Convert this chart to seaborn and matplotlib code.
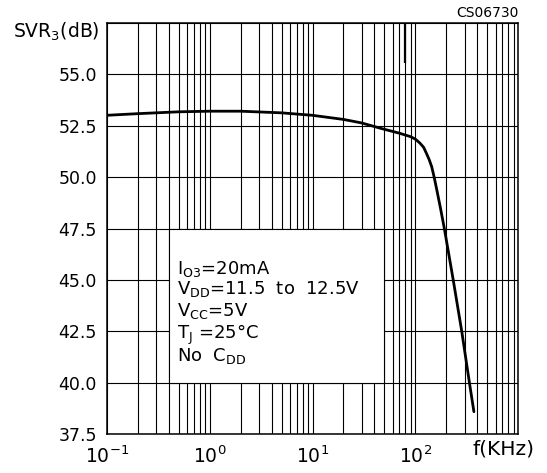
import matplotlib
matplotlib.use('Agg')
import matplotlib.pyplot as plt
import matplotlib.ticker as mticker
from matplotlib.patches import Rectangle
import seaborn as sns
import pandas as pd

sns.set_style('white')
plt.rcParams['font.family'] = ['DejaVu Sans']
plt.rcParams['mathtext.fontset'] = 'dejavusans'
plt.rcParams['text.color'] = 'black'

# curve
freq_khz = [0.1, 0.2, 0.5, 1, 2, 5, 10, 20, 30, 45, 70, 90, 100, 110, 120, 128, 136, 144, 152,
            161, 175, 191, 233, 282, 335, 370]
svr_db = [53.0, 53.08, 53.17, 53.2, 53.2, 53.12, 53.0, 52.8, 52.63, 52.38, 52.13, 51.96, 51.84,
          51.66, 51.45, 51.15, 50.85, 50.5, 50.0, 49.4, 48.5, 47.5, 45.0, 42.5, 40.0, 38.6]
y_ticks = [37.5, 40.0, 42.5, 45.0, 47.5, 50.0, 52.5, 55.0]
x_ticks = [0.1, 1, 10, 100]
x_labels = ['$10^{-1}$', '$10^{0}$', '$10^{1}$', '$10^{2}$']
conditions = [r'I$_{\mathrm{O3}}$=20mA', r'V$_{\mathrm{DD}}$=11.5  to  12.5V', r'V$_{\mathrm{CC}}$=5V',
              r'T$_{\mathrm{J}}$ =25°C', r'No  C$_{\mathrm{DD}}$']
cond_y = [45.27, 44.3, 43.25, 42.12, 41.08]

df = pd.DataFrame({'f': freq_khz, 'svr': svr_db})

fig = plt.figure(figsize=(5.47, 4.73), dpi=100)
ax = fig.add_axes([0.195, 0.0818, 0.9476 - 0.195, 0.952 - 0.0818])

ax.set_xscale('log')
ax.set_xlim(0.1, 1000)
ax.set_ylim(37.5, 57.5)
ax.set_axisbelow(True)
ax.grid(True, which='both', axis='x', color='black', lw=0.8)
ax.grid(True, which='major', axis='y', color='black', lw=0.8)
ax.set_yticks(y_ticks + [57.5])
ax.set_yticklabels([f'{v:.1f}' for v in y_ticks] + [''])
ax.xaxis.set_major_locator(mticker.FixedLocator(x_ticks + [1000]))
ax.xaxis.set_major_formatter(mticker.FixedFormatter(x_labels + ['']))
ax.xaxis.set_minor_locator(mticker.LogLocator(base=10, subs=range(2, 10)))
ax.xaxis.set_minor_formatter(mticker.NullFormatter())
ax.tick_params(axis='both', which='both', length=0, colors='black')
ax.tick_params(axis='y', labelsize=12.5, pad=7)
ax.tick_params(axis='x', labelsize=13.5, pad=8)
for s in ax.spines.values():
    s.set_color('black')
    s.set_linewidth(1.1)

# white box for the test conditions
ax.add_patch(Rectangle((0.4, 40.0), 49.6, 7.5, facecolor='white', edgecolor='black', lw=0.8, zorder=1))
for t, yy in zip(conditions, cond_y):
    ax.text(0.486, yy, t, fontsize=13, va='baseline', ha='left', zorder=3)

# thicker stub near 80 kHz
ax.vlines(80, 55.53, 57.5, color='black', lw=1.6, zorder=2)

sns.lineplot(data=df, x='f', y='svr', ax=ax, color='black', lw=2.0, sort=False, zorder=4)
ax.set_xlabel('')
ax.set_ylabel('')

fig.text(0.023, 0.932, 'SVR$_3$(dB)', fontsize=13.5, ha='left', va='center')
fig.text(0.9476, 0.972, 'CS06730', fontsize=10, ha='right', va='center')
fig.text(0.8635, 0.0507, 'f(KHz)', fontsize=14.5, ha='left', va='center')

fig.savefig('out.png', dpi=100)
